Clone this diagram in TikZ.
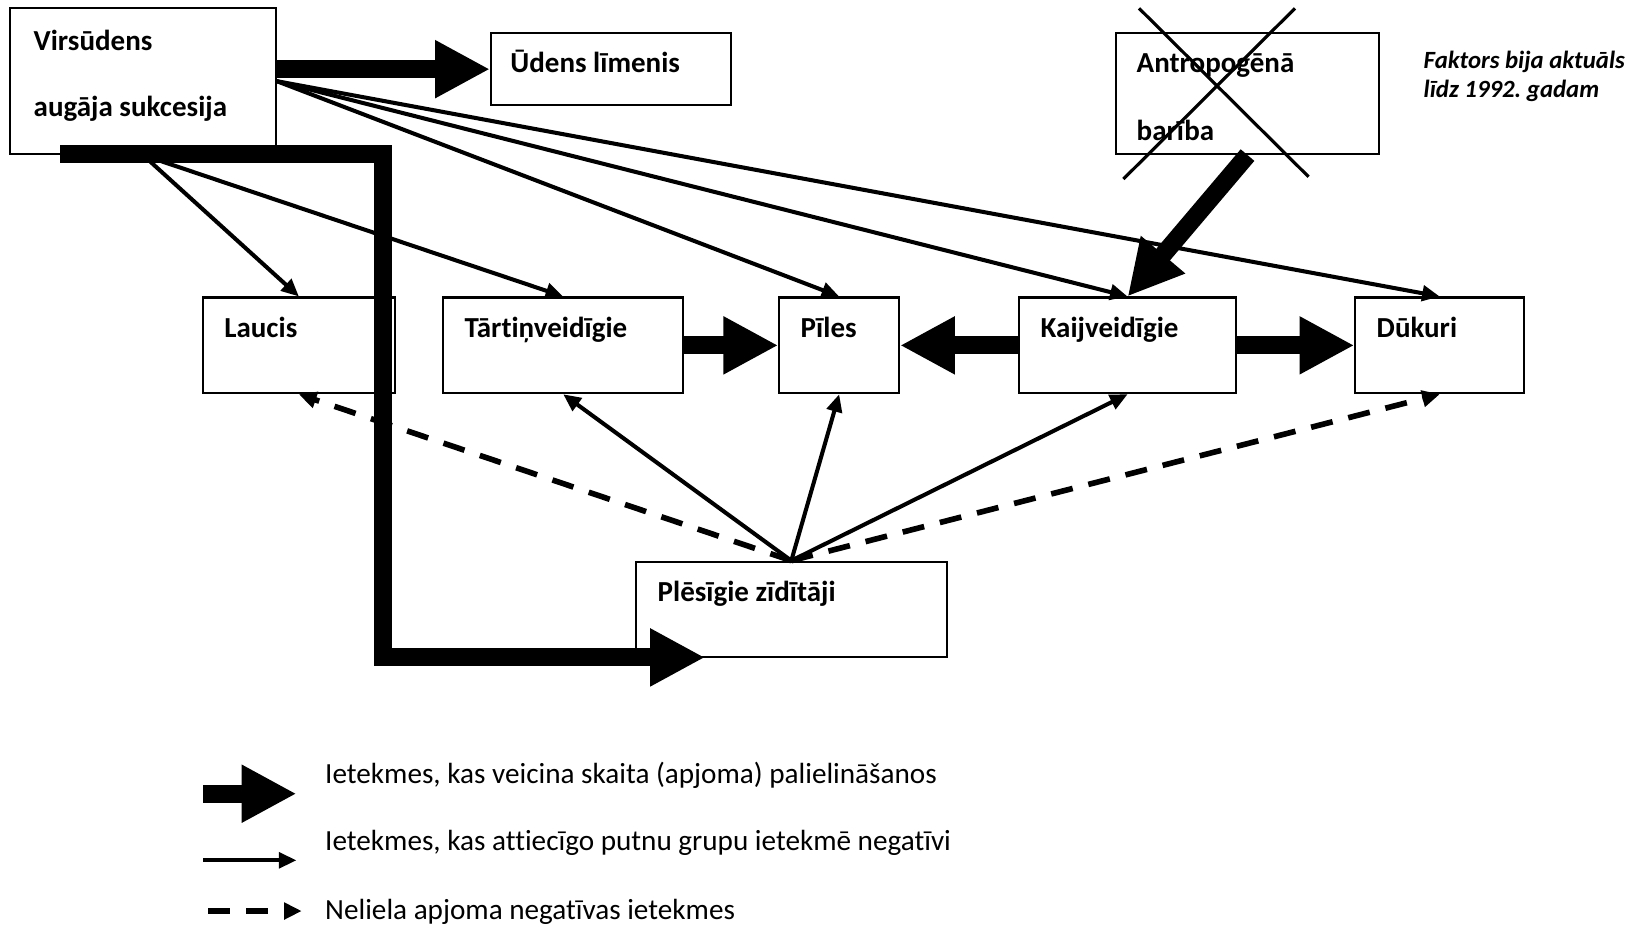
\documentclass[tikz,border=0pt]{standalone}
\usepackage{fontspec}
\setmainfont{Carlito}[Ligatures=NoCommon]
\usepackage{tikz}
\usetikzlibrary{arrows.meta, positioning, fit}
\frenchspacing

\begin{document}
\begin{tikzpicture}[x=0.01cm, y=-0.01cm,
    box/.style={draw, line width=0.6pt, inner sep=0pt},
    lbl/.style={anchor=base west, inner sep=0pt, font=\fontsize{8.25}{10}\selectfont\bfseries},
    note/.style={anchor=base west, inner sep=0pt, font=\fontsize{7.05}{9}\selectfont\bfseries\itshape},
    legtxt/.style={anchor=base west, inner sep=0pt, font=\fontsize{8.3}{10}\selectfont},
    big/.style={line width=5.1pt, -{Triangle[length=15.6pt, width=15.4pt]}},
    neg/.style={line width=1.15pt, -{Triangle[length=5pt, width=4.4pt]}},
    weak/.style={line width=1.6pt, dash pattern=on 6.3pt off 4.6pt, -{Triangle[length=5pt, width=4.6pt]}},
    cross/.style={line width=0.9pt}]
    \useasboundingbox (0,0) rectangle (1631,929);

    % Boxes
    \node[box, fit={(10.4,8.3) (275.7,154)}] (virs) {};
    \node[box, fit={(491,33.3) (731,105)}] (udens) {};
    \node[box, fit={(1116,33.3) (1379,154)}] (antrop) {};
    \node[box, fit={(202.8,297.5) (395,393.2)}] (laucis) {};
    \node[box, fit={(443,297.5) (683.4,393.2)}] (tart) {};
    \node[box, fit={(779.3,297.5) (899,393.2)}] (piles) {};
    \node[box, fit={(1019.4,297.5) (1235.8,393.2)}] (kaij) {};
    \node[box, fit={(1355.4,297.5) (1524,393.2)}] (dukuri) {};
    \node[box, fit={(635.6,561.7) (947,657.4)}] (ples) {};

    % Texts
    \node[lbl] (virsA) at (33,50) {Virsūdens};
    \node[lbl] (virsB) at (33,116.5) {augāja sukcesija};
    \node[lbl] (udensT) at (509.7,72.8) {Ūdens līmenis};
    \node[lbl] (antropA) at (1136,72.8) {Antropogēnā};
    \node[lbl] (antropB) at (1136,140.4) {barība};
    \node[lbl] (laucisT) at (223.6,337) {Laucis};
    \node[lbl] (tartT) at (464,337) {Tārtiņveidīgie};
    \node[lbl] (pilesT) at (800,337) {Pīles};
    \node[lbl] (kaijT) at (1040,337) {Kaijveidīgie};
    \node[lbl] (dukuriT) at (1376,337) {Dūkuri};
    \node[lbl] (plesT) at (657,601) {Plēsīgie zīdītāji};
    \node[note] (noteA) at (1423,68.7) {Faktors bija aktuāls};
    \node[note] (noteB) at (1423,97.8) {līdz 1992. gadam};

    % Crossed out
    \draw[cross] (1139,8.3) -- (1308.6,176.8);
    \draw[cross] (1295,8.3) -- (1123.4,179);

    % Negative influences
    \draw[neg] (virs.south) -- (laucis.north);
    \draw[neg] (virs.south) -- (tart.north);
    \draw[neg] (virs.east) -- (piles.north);
    \draw[neg] (virs.east) -- (kaij.north);
    \draw[neg] (virs.east) -- (dukuri.north);
    \draw[neg] (ples.north) -- (tart.south);
    \draw[neg] (ples.north) -- (piles.south);
    \draw[neg] (ples.north) -- (kaij.south);
    \draw[weak] (ples.north) -- (laucis.south);
    \draw[weak] (ples.north) -- (dukuri.south);

    % Increasing influences
    \draw[big] (virs.east |- udens.west) -- (udens.west);
    \draw[big] (tart.east) -- (piles.west);
    \draw[big] (kaij.west) -- (piles.east);
    \draw[big] (kaij.east) -- (dukuri.west);
    \draw[big] (antrop.south) -- (kaij.north);
    \coordinate (lstart) at (60,154);
    \coordinate (lbend) at (383,154);
    \coordinate (lend) at (705,657.4);
    \draw[big] (lstart) -- (lbend) |- (lend);

    % Legend
    \coordinate (lgA) at (203,793.7);
    \coordinate (lgB) at (203,860.3);
    \coordinate (lgC) at (208,911);
    \draw[big] (lgA) -- ++(93.5,0);
    \draw[neg] (lgB) -- ++(93.5,0);
    \draw[weak] (lgC) -- ++(93.7,0);
    \node[legtxt] (legA) at (324.5,783) {Ietekmes, kas veicina skaita (apjoma) palielināšanos};
    \node[legtxt] (legB) at (324.5,850) {Ietekmes, kas attiecīgo putnu grupu ietekmē negatīvi};
    \node[legtxt] (legC) at (324.5,919.5) {Neliela apjoma negatīvas ietekmes};
\end{tikzpicture}
\end{document}
